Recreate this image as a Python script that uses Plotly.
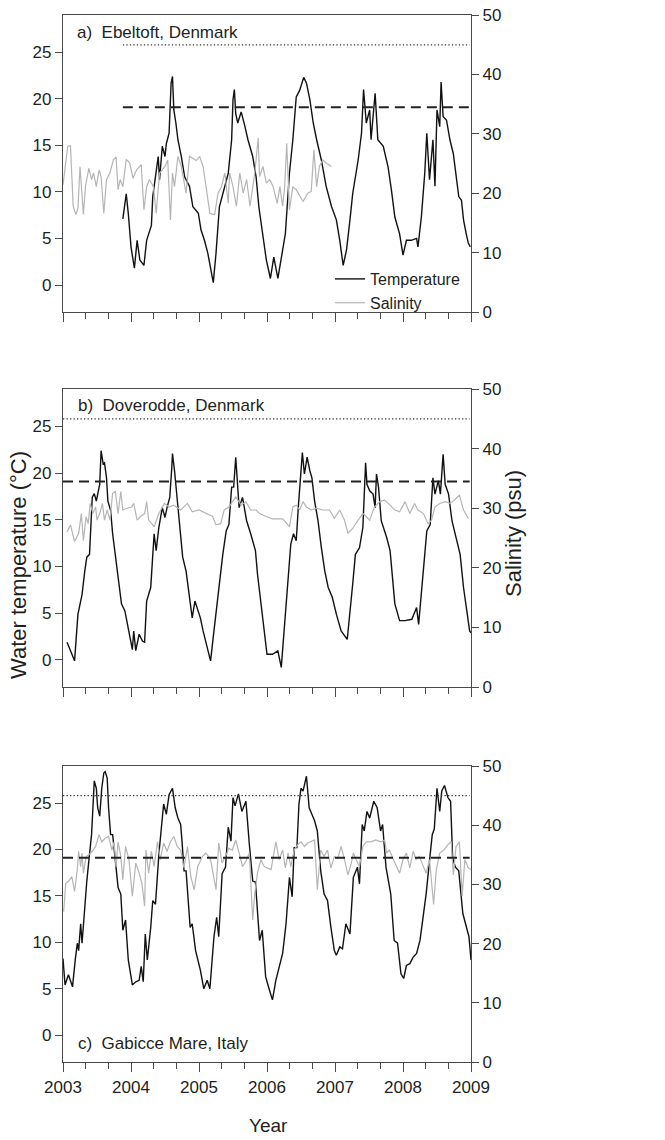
import plotly.graph_objects as go

# ---------------- data ----------------
# a) Ebeltoft, Denmark
a_temp_year = [2003.88, 2003.93, 2003.96, 2004.00, 2004.05, 2004.09, 2004.13, 2004.19, 2004.23, 2004.30,
               2004.32, 2004.40, 2004.42, 2004.46, 2004.50, 2004.52, 2004.56, 2004.59, 2004.61, 2004.63,
               2004.66, 2004.69, 2004.74, 2004.79, 2004.86, 2004.91, 2004.99, 2005.03, 2005.08, 2005.13,
               2005.21, 2005.25, 2005.30, 2005.38, 2005.43, 2005.48, 2005.50, 2005.52, 2005.54, 2005.57,
               2005.62, 2005.67, 2005.72, 2005.79, 2005.84, 2005.88, 2005.94, 2005.99, 2006.05, 2006.10,
               2006.16, 2006.21, 2006.27, 2006.33, 2006.38, 2006.43, 2006.48, 2006.54, 2006.58, 2006.63,
               2006.68, 2006.73, 2006.80, 2006.87, 2006.95, 2007.02, 2007.07, 2007.12, 2007.17, 2007.22,
               2007.26, 2007.34, 2007.39, 2007.42, 2007.46, 2007.51, 2007.53, 2007.59, 2007.63, 2007.71,
               2007.78, 2007.83, 2007.88, 2007.95, 2008.00, 2008.05, 2008.12, 2008.20, 2008.22, 2008.27,
               2008.32, 2008.35, 2008.39, 2008.44, 2008.47, 2008.50, 2008.54, 2008.56, 2008.59, 2008.64,
               2008.69, 2008.74, 2008.77, 2008.82, 2008.86, 2008.89, 2008.93, 2008.96, 2008.99]
a_temp = [7.1, 9.8, 7.7, 4.1, 1.8, 4.8, 2.7, 2.1, 4.8, 6.4,
          9.5, 13.8, 11.3, 14.9, 13.8, 15.2, 16.3, 21.7, 22.4, 18.8,
          17.4, 15.6, 13.8, 11.6, 10.6, 8.4, 7.7, 5.9, 4.8, 3.4,
          0.25, 3.4, 8.4, 10.6, 12.0, 15.6, 19.9, 21.0, 18.4, 17.4,
          18.6, 17.2, 15.6, 13.8, 11.6, 8.4, 5.5, 2.7, 0.7, 3.0,
          0.7, 3.0, 5.5, 12.0, 15.6, 20.2, 20.9, 22.3, 21.7, 19.9,
          17.4, 15.6, 13.4, 10.6, 8.4, 7.0, 4.8, 2.1, 3.8, 7.0,
          9.8, 13.4, 16.3, 21.0, 17.4, 18.8, 15.6, 20.6, 15.6, 14.9,
          12.7, 10.2, 7.3, 5.5, 3.2, 4.8, 4.8, 5.0, 4.1, 7.3,
          12.0, 16.3, 11.3, 15.6, 10.6, 18.8, 17.0, 21.8, 18.1, 17.7,
          15.6, 14.1, 12.4, 9.5, 9.1, 7.0, 5.5, 4.5, 4.1]
a_sal_year = [2003.00, 2003.05, 2003.07, 2003.11, 2003.15, 2003.19, 2003.22, 2003.25, 2003.27, 2003.30,
              2003.33, 2003.38, 2003.42, 2003.45, 2003.49, 2003.53, 2003.56, 2003.60, 2003.64, 2003.69,
              2003.74, 2003.78, 2003.81, 2003.84, 2003.88, 2003.93, 2003.98, 2004.03, 2004.08, 2004.15,
              2004.19, 2004.23, 2004.27, 2004.33, 2004.37, 2004.42, 2004.50, 2004.54, 2004.58, 2004.61,
              2004.64, 2004.69, 2004.74, 2004.81, 2004.86, 2004.96, 2005.01, 2005.06, 2005.11, 2005.16,
              2005.23, 2005.28, 2005.33, 2005.38, 2005.43, 2005.45, 2005.50, 2005.55, 2005.60, 2005.65,
              2005.70, 2005.75, 2005.82, 2005.87, 2005.89, 2005.94, 2005.99, 2006.04, 2006.09, 2006.15,
              2006.19, 2006.23, 2006.26, 2006.29, 2006.33, 2006.38, 2006.43, 2006.48, 2006.53, 2006.60,
              2006.65, 2006.69, 2006.73, 2006.77, 2006.82, 2006.87, 2006.95]
a_sal = [21.4, 26.2, 27.9, 28.0, 17.8, 16.4, 17.5, 24.5, 21.1, 16.4,
         21.1, 24.2, 22.3, 23.4, 21.1, 23.9, 22.8, 16.6, 22.3, 23.4,
         25.6, 26.1, 20.6, 22.3, 21.1, 25.7, 25.1, 22.5, 23.9, 24.8,
         17.2, 21.1, 22.3, 21.1, 16.6, 23.4, 24.5, 25.6, 15.5, 23.4,
         21.1, 26.2, 24.5, 20.0, 26.2, 25.5, 26.2, 24.5, 20.6, 16.6,
         16.4, 20.0, 21.1, 23.4, 18.3, 23.4, 21.1, 17.8, 23.4, 20.0,
         22.3, 17.8, 23.4, 29.3, 22.8, 24.5, 21.7, 22.3, 21.1, 18.3,
         21.1, 17.8, 21.1, 28.4, 17.2, 21.1, 20.6, 19.7, 18.6, 20.0,
         20.3, 27.3, 21.1, 24.5, 25.6, 25.1, 24.5]

# b) Doverodde, Denmark
b_temp_year = [2003.06, 2003.11, 2003.17, 2003.22, 2003.28, 2003.32, 2003.35, 2003.39, 2003.43, 2003.46,
               2003.49, 2003.52, 2003.54, 2003.56, 2003.59, 2003.61, 2003.64, 2003.66, 2003.70, 2003.73,
               2003.77, 2003.82, 2003.86, 2003.91, 2003.94, 2003.98, 2004.02, 2004.04, 2004.07, 2004.12,
               2004.17, 2004.20, 2004.23, 2004.29, 2004.34, 2004.37, 2004.41, 2004.46, 2004.50, 2004.53,
               2004.57, 2004.60, 2004.61, 2004.64, 2004.67, 2004.71, 2004.76, 2004.81, 2004.84, 2004.90,
               2004.94, 2004.98, 2005.02, 2005.06, 2005.12, 2005.17, 2005.22, 2005.28, 2005.35, 2005.40,
               2005.44, 2005.48, 2005.51, 2005.54, 2005.57, 2005.59, 2005.64, 2005.70, 2005.76, 2005.83,
               2005.86, 2005.94, 2006.00, 2006.08, 2006.16, 2006.21, 2006.26, 2006.29, 2006.35, 2006.39,
               2006.43, 2006.46, 2006.49, 2006.52, 2006.55, 2006.59, 2006.63, 2006.66, 2006.70, 2006.75,
               2006.80, 2006.85, 2006.90, 2006.96, 2007.02, 2007.09, 2007.18, 2007.22, 2007.26, 2007.30,
               2007.36, 2007.41, 2007.45, 2007.47, 2007.51, 2007.56, 2007.59, 2007.61, 2007.64, 2007.68,
               2007.76, 2007.81, 2007.88, 2007.95, 2008.03, 2008.13, 2008.20, 2008.23, 2008.27, 2008.35,
               2008.40, 2008.44, 2008.47, 2008.52, 2008.55, 2008.59, 2008.62, 2008.67, 2008.72, 2008.77,
               2008.84, 2008.89, 2008.94, 2008.98, 2009.00]
b_temp = [1.9, 1.0, -0.1, 4.9, 7.0, 9.5, 11.0, 11.3, 17.4, 17.8,
          17.0, 18.1, 18.8, 22.4, 21.0, 21.1, 19.5, 17.0, 16.0, 13.5,
          11.3, 8.1, 6.0, 5.25, 4.2, 2.75, 1.1, 3.1, 1.0, 2.75,
          2.0, 1.9, 6.3, 7.75, 13.5, 11.7, 14.2, 16.3, 15.25, 16.3,
          17.4, 20.6, 22.1, 20.25, 17.75, 14.9, 11.0, 9.5, 7.75, 4.5,
          6.3, 5.4, 4.5, 3.1, 1.3, -0.1, 3.1, 7.0, 11.3, 13.8,
          14.5, 18.5, 18.5, 21.7, 17.75, 16.3, 17.4, 14.9, 13.5, 11.7,
          9.2, 4.5, 0.6, 0.6, 0.96, -0.8, 4.2, 6.3, 12.4, 13.5,
          12.75, 16.3, 19.5, 22.2, 19.9, 21.7, 20.25, 19.5, 17.0, 14.9,
          12.0, 9.5, 7.75, 6.7, 4.9, 3.1, 2.2, 5.6, 8.1, 11.3,
          12.0, 14.2, 21.1, 18.8, 18.1, 17.75, 16.3, 19.9, 18.5, 14.9,
          13.1, 11.7, 6.0, 4.2, 4.2, 4.35, 5.6, 3.8, 7.0, 13.8,
          14.5, 19.5, 17.75, 19.2, 17.75, 22.0, 18.8, 17.75, 14.9, 13.5,
          11.3, 7.75, 5.25, 3.1, 2.9]
b_sal_year = [2003.06, 2003.11, 2003.17, 2003.23, 2003.27, 2003.30, 2003.34, 2003.37, 2003.40, 2003.44,
              2003.48, 2003.50, 2003.54, 2003.58, 2003.61, 2003.65, 2003.69, 2003.73, 2003.77, 2003.81,
              2003.85, 2003.88, 2003.94, 2004.01, 2004.04, 2004.09, 2004.14, 2004.20, 2004.23, 2004.26,
              2004.34, 2004.41, 2004.49, 2004.56, 2004.63, 2004.73, 2004.83, 2004.90, 2005.00, 2005.10,
              2005.20, 2005.25, 2005.32, 2005.37, 2005.44, 2005.54, 2005.62, 2005.69, 2005.76, 2005.84,
              2005.89, 2005.99, 2006.08, 2006.23, 2006.33, 2006.38, 2006.43, 2006.48, 2006.53, 2006.58,
              2006.65, 2006.72, 2006.82, 2006.92, 2006.99, 2007.07, 2007.14, 2007.19, 2007.26, 2007.34,
              2007.41, 2007.46, 2007.51, 2007.58, 2007.66, 2007.73, 2007.81, 2007.88, 2007.95, 2008.03,
              2008.10, 2008.17, 2008.22, 2008.30, 2008.37, 2008.42, 2008.47, 2008.54, 2008.62, 2008.69,
              2008.76, 2008.83, 2008.89, 2008.96]
b_sal = [26.0, 27.2, 24.4, 25.8, 29.1, 24.6, 28.6, 27.4, 30.8, 29.1,
         30.2, 28.0, 29.1, 30.8, 28.0, 29.7, 28.0, 32.5, 32.8, 29.1,
         32.8, 29.7, 30.0, 30.2, 30.8, 28.0, 28.6, 29.1, 31.1, 28.0,
         26.9, 29.1, 30.8, 30.2, 30.5, 29.7, 30.8, 29.4, 29.7, 29.1,
         28.6, 27.2, 27.4, 29.7, 30.2, 31.9, 30.5, 31.1, 29.7, 29.7,
         29.1, 28.6, 28.2, 28.2, 26.9, 30.2, 30.5, 29.7, 31.1, 30.2,
         29.7, 30.0, 29.7, 29.7, 28.3, 29.7, 28.0, 25.8, 26.6, 28.0,
         29.1, 28.6, 28.0, 30.2, 31.1, 31.4, 30.5, 29.7, 29.4, 31.1,
         29.1, 30.8, 29.7, 29.1, 27.4, 28.0, 30.2, 30.8, 31.1, 30.8,
         31.4, 32.2, 29.7, 28.3]

# c) Gabicce Mare, Italy
c_temp_year = [2003.00, 2003.03, 2003.08, 2003.11, 2003.14, 2003.18, 2003.21, 2003.23, 2003.26, 2003.28,
               2003.32, 2003.35, 2003.39, 2003.42, 2003.44, 2003.46, 2003.49, 2003.51, 2003.54, 2003.57,
               2003.60, 2003.62, 2003.65, 2003.67, 2003.70, 2003.73, 2003.77, 2003.81, 2003.85, 2003.88,
               2003.92, 2003.96, 2004.02, 2004.07, 2004.12, 2004.15, 2004.18, 2004.21, 2004.24, 2004.29,
               2004.32, 2004.36, 2004.41, 2004.44, 2004.48, 2004.52, 2004.56, 2004.61, 2004.65, 2004.69,
               2004.73, 2004.75, 2004.78, 2004.81, 2004.87, 2004.90, 2004.95, 2005.02, 2005.07, 2005.12,
               2005.16, 2005.22, 2005.26, 2005.29, 2005.34, 2005.39, 2005.43, 2005.47, 2005.50, 2005.53,
               2005.58, 2005.63, 2005.69, 2005.74, 2005.79, 2005.83, 2005.89, 2005.93, 2005.98, 2006.03,
               2006.08, 2006.13, 2006.18, 2006.23, 2006.28, 2006.33, 2006.37, 2006.40, 2006.44, 2006.47,
               2006.50, 2006.53, 2006.58, 2006.62, 2006.66, 2006.70, 2006.74, 2006.79, 2006.84, 2006.89,
               2006.94, 2006.99, 2007.02, 2007.07, 2007.11, 2007.16, 2007.22, 2007.27, 2007.33, 2007.36,
               2007.40, 2007.43, 2007.47, 2007.51, 2007.57, 2007.62, 2007.67, 2007.70, 2007.75, 2007.82,
               2007.87, 2007.92, 2007.97, 2008.01, 2008.05, 2008.10, 2008.15, 2008.20, 2008.25, 2008.29,
               2008.34, 2008.39, 2008.43, 2008.46, 2008.50, 2008.54, 2008.57, 2008.61, 2008.66, 2008.70,
               2008.73, 2008.77, 2008.82, 2008.88, 2008.93, 2008.97, 2009.00]
c_temp = [8.25, 5.4, 6.5, 5.9, 5.2, 8.1, 9.9, 9.1, 12.0, 9.9,
          13.8, 16.6, 19.5, 21.6, 24.5, 27.4, 26.6, 24.5, 23.6, 26.6,
          28.25, 28.4, 27.7, 24.5, 21.6, 21.6, 18.8, 15.9, 15.2, 11.3,
          12.4, 8.1, 5.4, 5.75, 5.9, 7.4, 5.75, 10.9, 8.1, 11.6,
          14.5, 14.1, 19.5, 21.6, 24.9, 23.8, 25.9, 26.6, 24.5, 23.4,
          22.7, 20.9, 17.7, 17.7, 11.6, 12.0, 9.1, 7.0, 5.0, 5.9,
          5.0, 10.6, 12.7, 10.6, 17.4, 18.1, 22.4, 20.9, 25.6, 24.7,
          26.0, 24.1, 25.2, 20.6, 16.6, 16.5, 10.2, 11.3, 6.3, 5.0,
          3.8, 5.9, 7.4, 8.8, 12.0, 17.0, 14.9, 20.2, 20.2, 24.9,
          26.6, 26.3, 27.9, 24.5, 23.8, 23.1, 22.0, 17.7, 15.2, 14.5,
          11.6, 9.1, 8.6, 9.5, 9.3, 12.0, 10.9, 17.0, 18.1, 16.3,
          22.7, 22.0, 24.1, 23.4, 25.2, 24.5, 22.0, 22.7, 18.1, 15.2,
          10.2, 9.9, 6.6, 6.1, 7.5, 7.7, 8.4, 8.8, 10.2, 12.4,
          15.2, 18.8, 21.6, 22.2, 26.6, 24.1, 26.3, 26.9, 25.6, 25.2,
          19.1, 18.1, 17.7, 13.1, 11.6, 10.6, 8.1]
c_sal_year = [2003.01, 2003.04, 2003.08, 2003.13, 2003.17, 2003.21, 2003.23, 2003.26, 2003.28, 2003.30,
              2003.34, 2003.38, 2003.43, 2003.48, 2003.53, 2003.57, 2003.62, 2003.67, 2003.72, 2003.75,
              2003.78, 2003.81, 2003.85, 2003.88, 2003.92, 2003.97, 2004.02, 2004.07, 2004.12, 2004.16,
              2004.20, 2004.22, 2004.26, 2004.30, 2004.34, 2004.39, 2004.43, 2004.48, 2004.53, 2004.58,
              2004.63, 2004.68, 2004.73, 2004.78, 2004.83, 2004.88, 2004.93, 2004.98, 2005.05, 2005.10,
              2005.17, 2005.25, 2005.29, 2005.34, 2005.39, 2005.44, 2005.49, 2005.54, 2005.59, 2005.64,
              2005.69, 2005.74, 2005.79, 2005.82, 2005.86, 2005.91, 2005.96, 2006.01, 2006.06, 2006.13,
              2006.18, 2006.23, 2006.27, 2006.31, 2006.35, 2006.40, 2006.45, 2006.50, 2006.55, 2006.60,
              2006.65, 2006.70, 2006.74, 2006.79, 2006.84, 2006.89, 2006.94, 2006.99, 2007.04, 2007.09,
              2007.14, 2007.19, 2007.24, 2007.27, 2007.31, 2007.36, 2007.41, 2007.46, 2007.53, 2007.60,
              2007.68, 2007.73, 2007.76, 2007.80, 2007.85, 2007.90, 2007.95, 2008.00, 2008.05, 2008.10,
              2008.15, 2008.19, 2008.24, 2008.29, 2008.34, 2008.39, 2008.45, 2008.49, 2008.54, 2008.60,
              2008.66, 2008.71, 2008.74, 2008.78, 2008.83, 2008.87, 2008.91, 2008.96, 2009.00]
c_sal = [25.4, 30.2, 30.5, 31.3, 28.8, 32.5, 35.6, 33.0, 35.3, 31.9,
         34.7, 35.0, 35.6, 36.4, 38.4, 37.2, 37.8, 38.1, 35.8, 37.2,
         33.0, 37.2, 34.7, 30.8, 36.4, 34.2, 28.0, 33.6, 31.9, 30.2,
         26.3, 35.8, 31.9, 35.6, 33.0, 37.2, 34.2, 37.0, 35.6, 37.2,
         38.1, 36.4, 35.8, 32.8, 36.4, 31.3, 29.1, 33.0, 34.7, 35.3,
         34.2, 29.1, 37.0, 33.6, 34.7, 36.1, 35.8, 37.5, 35.3, 33.0,
         33.9, 35.3, 24.0, 28.5, 31.9, 34.2, 33.0, 32.8, 32.5, 37.2,
         34.2, 35.8, 32.8, 35.3, 33.0, 35.8, 36.7, 37.2, 36.4, 37.0,
         37.2, 37.5, 29.1, 35.8, 34.7, 35.8, 32.8, 34.7, 34.4, 36.4,
         34.2, 31.6, 33.6, 35.3, 34.2, 33.0, 36.4, 37.2, 37.2, 37.5,
         37.2, 37.5, 35.3, 35.8, 34.4, 33.0, 31.9, 34.2, 35.3, 32.8,
         35.6, 34.2, 34.7, 33.3, 31.9, 34.2, 26.6, 32.5, 35.3, 35.8,
         36.7, 37.2, 31.6, 36.4, 37.2, 28.0, 34.2, 32.8, 32.5]

panel_labels = ["a)  Ebeltoft, Denmark", "b)  Doverodde, Denmark", "c)  Gabicce Mare, Italy"]
year_ticks = [2003, 2004, 2005, 2006, 2007, 2008, 2009]
temp_ticks = [0, 5, 10, 15, 20, 25]
sal_ticks = [0, 10, 20, 30, 40, 50]
dashed_level = 19.1      # °C
dotted_level = 25.8      # °C
ref_line_start = [2003.88, 2003.0, 2003.0]

# ---------------- figure ----------------
W, H = 665, 1140
TXT = "#231f20"
AX = "#4a4a4a"
FONT = "Liberation Sans, Arial, sans-serif"
TICKFS = 17

x_dom = [63 / W, 471 / W]
panels_px = [(15, 312), (389, 687), (766, 1062)]
y_doms = [[1 - b / H, 1 - t / H] for t, b in panels_px]

series = [(a_temp_year, a_temp, a_sal_year, a_sal),
          (b_temp_year, b_temp, b_sal_year, b_sal),
          (c_temp_year, c_temp, c_sal_year, c_sal)]

fig = go.Figure()
layout = dict(width=W, height=H, margin=dict(l=0, r=0, t=0, b=0, autoexpand=False),
              paper_bgcolor="white", plot_bgcolor="white",
              font=dict(family=FONT, color=TXT, size=16),
              shapes=[], annotations=[])

for i, (ty, tv, sy, sv) in enumerate(series):
    xn = "x" if i == 0 else f"x{i + 1}"
    yl = "y" if i == 0 else f"y{2 * i + 1}"
    yr = f"y{2 * i + 2}"
    fig.add_trace(go.Scatter(x=sy, y=sv, xaxis=xn, yaxis=yr, mode="lines",
                             line=dict(color="#b5b5b5", width=1.2),
                             name="Salinity", showlegend=(i == 0), legendrank=2))
    fig.add_trace(go.Scatter(x=ty, y=tv, xaxis=xn, yaxis=yl, mode="lines",
                             line=dict(color="#111111", width=1.4),
                             name="Temperature", showlegend=(i == 0), legendrank=1))

    xkey = "xaxis" if i == 0 else f"xaxis{i + 1}"
    ylkey = "yaxis" if i == 0 else f"yaxis{2 * i + 1}"
    yrkey = f"yaxis{2 * i + 2}"
    layout[xkey] = dict(domain=x_dom, anchor=yl, range=[2003, 2009], automargin=False,
                        tickvals=year_ticks, ticktext=[str(v) for v in year_ticks],
                        showticklabels=(i == 2), ticks="outside", ticklen=9,
                        tickcolor=AX, tickwidth=1.2, showline=True, linecolor=AX,
                        linewidth=1.2, mirror=True, showgrid=False, zeroline=False,
                        tickfont=dict(size=TICKFS, color=TXT),
                        minor=dict(dtick=1 / 3, tick0=2003, ticks="outside", ticklen=6,
                                   tickcolor=AX, tickwidth=1.2, showgrid=False))
    layout[ylkey] = dict(domain=y_doms[i], anchor=xn, range=[-2.9, 29.0], automargin=False,
                         tickvals=temp_ticks, ticks="outside", ticklen=7,
                         tickcolor=AX, tickwidth=1.2, showline=True, linecolor=AX,
                         linewidth=1.2, showgrid=False, zeroline=False,
                         tickfont=dict(size=TICKFS, color=TXT))
    layout[yrkey] = dict(overlaying=yl, side="right", anchor=xn, range=[0, 50], automargin=False,
                         tickvals=sal_ticks, ticks="outside", ticklen=7,
                         tickcolor=AX, tickwidth=1.2, showline=True, linecolor=AX,
                         linewidth=1.2, showgrid=False, zeroline=False,
                         tickfont=dict(size=TICKFS, color=TXT))

    layout["shapes"].append(dict(type="line", xref=xn, yref=yl,
                                 x0=ref_line_start[i], x1=2008.98,
                                 y0=dashed_level, y1=dashed_level,
                                 line=dict(color="#222222", width=2, dash="10px,6px")))
    layout["shapes"].append(dict(type="line", xref=xn, yref=yl,
                                 x0=ref_line_start[i], x1=2008.98,
                                 y0=dotted_level, y1=dotted_level,
                                 line=dict(color="#333333", width=1.3, dash="1.3px,2.2px")))

label_pos = [(75, 33), (76, 405), (76, 1043)]
for lab, (px, py) in zip(panel_labels, label_pos):
    layout["annotations"].append(dict(text=lab, xref="paper", yref="paper",
                                      x=px / W, y=1 - py / H, xanchor="left", yanchor="middle",
                                      showarrow=False, font=dict(size=17, color=TXT)))

layout["annotations"] += [
    dict(text="Water temperature (°C)", xref="paper", yref="paper", x=18 / W, y=1 - 565 / H,
         textangle=-90, showarrow=False, xanchor="center", yanchor="middle",
         font=dict(size=22, color=TXT)),
    dict(text="Salinity (psu)", xref="paper", yref="paper", x=513 / W, y=1 - 534 / H,
         textangle=-90, showarrow=False, xanchor="center", yanchor="middle",
         font=dict(size=22, color=TXT)),
    dict(text="Year", xref="paper", yref="paper", x=268 / W, y=1 - 1125 / H,
         showarrow=False, xanchor="center", yanchor="middle",
         font=dict(size=19, color=TXT)),
]

layout["legend"] = dict(x=330 / W, y=1 - 262 / H, xanchor="left", yanchor="top",
                        bgcolor="rgba(0,0,0,0)", font=dict(size=16, color=TXT),
                        tracegroupgap=0, itemwidth=30)
layout["showlegend"] = True

fig.update_layout(**layout)
fig.write_html("out.html", config={"displayModeBar": False},
               post_script="document.body.style.margin='0';document.body.style.padding='0';")
